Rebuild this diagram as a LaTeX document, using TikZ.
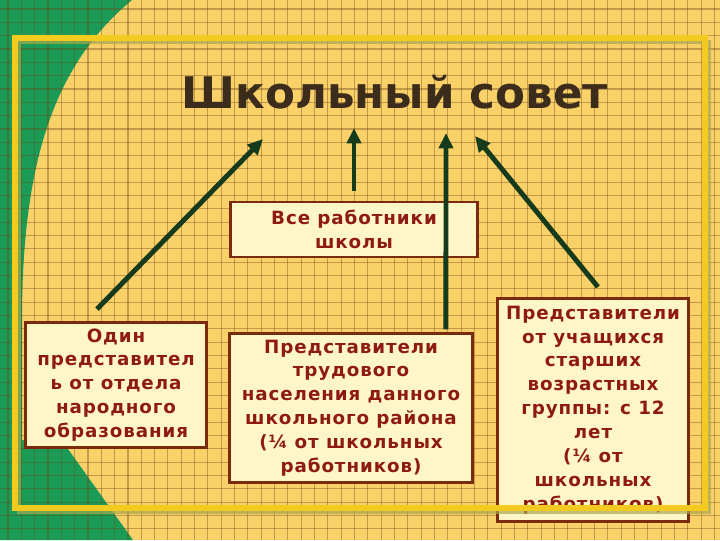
\documentclass[tikz,border=0pt]{standalone}
\usepackage{fontspec}
\setmainfont{DejaVu Sans}
\usepackage{tikz}
\usetikzlibrary{calc,arrows.meta}
\definecolor{sc-bg}{HTML}{FAD068}
\definecolor{sc-green}{HTML}{1B9B55}
\definecolor{sc-grid}{HTML}{6A4A18}
\definecolor{sc-frame}{HTML}{F2CB1E}
\definecolor{sc-shadow}{HTML}{A8A850}
\definecolor{sc-box}{HTML}{FFF6C8}
\definecolor{sc-border}{HTML}{7A2B0C}
\definecolor{sc-text}{HTML}{8E1A14}
\definecolor{sc-title}{HTML}{3B2C1C}
\definecolor{sc-arrow}{HTML}{163A1C}

\begin{document}
\begin{tikzpicture}[x=0.025cm, y=-0.025cm,
    box/.style={draw=sc-border, line width=2pt, fill=sc-box, text=sc-text,
        font=\bfseries\fontsize{13}{17}\selectfont\addfontfeature{LetterSpace=5},
        align=center, inner sep=0pt},
    link/.style={draw=sc-arrow, line width=3.5pt, -{Triangle[length=11pt,width=10pt]}}]

    \useasboundingbox (0, 0) rectangle (720, 540);
    \clip (0, 0) rectangle (720, 540);

    % Background and green corner
    \fill[sc-bg] (0, 0) rectangle (720, 540);
    \fill[sc-green] (0, 0) -- (132, 0) .. controls (60, 60) and (22, 150) .. (22, 320)
        -- (22, 440) -- (68, 449) -- (133, 540) -- (0, 540) -- cycle;

    % Grid
    \foreach \i in {0,...,54} {
        \draw[sc-grid, opacity=0.4, line width=0.75pt] ({8 + 13.33*\i}, 0) -- ++(0, 540);
    }
    \foreach \i in {0,...,40} {
        \draw[sc-grid, opacity=0.4, line width=0.75pt] (0, {9 + 13.33*\i}) -- ++(720, 0);
    }

    % Title
    \node[anchor=base, text=sc-title, font=\bfseries\fontsize{31}{37}\selectfont]
        (title) at (395, 108) {Школьный совет};

    % Boxes
    \node[box, minimum width=129pt, minimum height=89pt] (ministry) at (116, 385)
        {Один\\представител\\ь от отдела\\народного\\образования};
    \node[box, minimum width=176pt, minimum height=39pt] (allstaff) at (354, 229.5)
        {Все работники\\школы};
    \node[box, minimum width=173pt, minimum height=106pt] (locals) at (351, 408)
        {Представители\\трудового\\населения данного\\школьного района\\(¼ от школьных\\работников)};
    \node[box, minimum width=136pt, minimum height=159pt] (pupils) at (593, 410)
        {Представители\\от учащихся\\старших\\возрастных\\группы: с 12\\лет\\(¼ от\\школьных\\работников)};

    % Arrow ends
    \coordinate (t1) at (263, 139);
    \coordinate (t2) at (354, 128);
    \coordinate (t3) at (446, 133);
    \coordinate (t4) at (475, 136);

    % Arrows
    \draw[link] ([xshift=-13.5pt, yshift=8.5pt]ministry.north) -- (t1);
    \draw[link] ([yshift=7pt]allstaff.north) -- (t2);
    \draw[link] ([xshift=-20pt, yshift=2pt]locals.north east) -- (t3);
    \draw[link] ([xshift=3.5pt, yshift=7pt]pupils.north) -- (t4);

    % Frame
    \draw[sc-shadow, opacity=0.7, line width=3pt] (19, 42) rectangle (709, 512);
    \draw[sc-frame, line width=4.5pt] (15, 38) rectangle (705, 508);
\end{tikzpicture}
\end{document}
